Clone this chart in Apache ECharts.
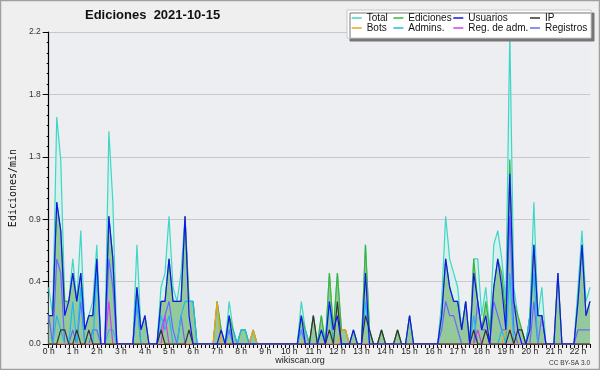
<!DOCTYPE html>
<html><head><meta charset="utf-8">
<script src="https://cdn.jsdelivr.net/npm/echarts@6/dist/echarts.min.js"></script>
<style>html,body{margin:0;padding:0;background:#efefef}#c{width:600px;height:370px}</style>
</head><body><div id="c"></div>
<script>
// tick labels (one per hour; data are 10-minute slots)
const hourLabels = ['0 h','1 h','2 h','3 h','4 h','5 h','6 h','7 h','8 h','9 h','10 h','11 h','12 h','13 h','14 h','15 h','16 h','17 h','18 h','19 h','20 h','21 h','22 h'];
const slotMinutes = ['00','10','20','30','40','50'];
const slots = [];
for (let h = 0; h < hourLabels.length; h++) for (let m = 0; m < 6; m++) { if (slots.length < 136) slots.push(h + ':' + slotMinutes[m]); }

// edits per minute, one value per 10-minute slot (6 per row = 1 hour)
const total = [
 .4,.2,1.6,1.3,.3,.3,  .6,.3,.8,.1,.2,.3,  .7,0,0,1.5,1.0,0,  0,0,0,0,.7,.1,
 .2,0,0,0,.4,.5,  .9,.4,.3,.5,.9,.3,  .3,0,0,0,0,0,  .3,.1,0,.3,.1,0,
 .1,.1,0,.1,0,0,  0,0,0,0,0,0,  0,0,0,.3,.1,0,  .2,0,.2,0,.5,.1,
 .5,.1,.1,0,.1,0,  0,.7,.1,0,0,.1,  0,0,0,.1,0,0,  .2,0,0,0,0,0,
 0,0,.3,.9,.6,.5,  .4,.1,.3,0,.6,.6,  .2,.4,.1,.7,.8,.6,  .3,2.2,.4,.2,.1,0,
 .2,1.0,.2,.4,0,0,  0,.5,0,0,0,0,  .4,.8,.3,.4];
const ediciones = [
 .2,.2,1.0,.8,.3,.3,  .5,.3,.5,.1,.2,.2,  .6,0,0,.9,.6,0,  0,0,0,0,.4,.1,
 .2,0,0,0,.3,.3,  .6,.3,.3,.3,.9,.3,  .3,0,0,0,0,0,  .3,.1,0,.2,.1,0,
 .1,.1,0,.1,0,0,  0,0,0,0,0,0,  0,0,0,.2,.1,0,  .2,0,.2,0,.5,.1,
 .5,.1,.1,0,.1,0,  0,.7,.1,0,0,.1,  0,0,0,.1,0,0,  .2,0,0,0,0,0,
 0,0,.2,.6,.4,.3,  .3,.1,.3,0,.6,.3,  .1,.3,.1,.4,.6,.5,  .2,1.3,.3,.2,.1,0,
 .2,.7,.2,.2,0,0,  0,.5,0,0,0,0,  .3,.7,.2,.3];
const usuarios = [
 .2,.2,1.0,.8,.2,.3,  .5,.3,.5,.1,.2,.2,  .6,0,0,.9,.6,0,  0,0,0,0,.4,.1,
 .2,0,0,0,.3,.3,  .6,.3,.3,.3,.9,.2,  0,0,0,0,0,0,  0,.1,0,.2,0,0,
 0,0,0,0,0,0,  0,0,0,0,0,0,  0,0,0,.2,0,0,  0,0,.1,0,.3,.1,
 .2,0,0,0,.1,0,  0,.5,0,0,0,0,  0,0,0,0,0,0,  .2,0,0,0,0,0,
 0,0,.2,.6,.4,.3,  .3,.1,.3,0,.5,.3,  .1,.2,0,.4,.6,.4,  .1,1.2,.3,.1,0,0,
 .1,.7,.2,.2,0,0,  0,.5,0,0,0,0,  .3,.7,.2,.3];
const ip = [
 0,0,0,.1,.1,0,  0,.1,0,0,.1,0,  0,0,0,0,0,0,  0,0,0,0,0,0,
 0,0,0,0,.1,0,  0,0,0,0,0,.1,  0,0,0,0,0,0,  0,0,0,0,0,0,
 0,0,0,0,0,0,  0,0,0,0,0,0,  0,0,0,0,0,0,  .2,0,0,0,.1,0,
 .3,0,0,0,0,0,  0,.2,.1,0,0,.1,  0,0,0,.1,0,0,  0,0,0,0,0,0,
 0,0,0,0,0,0,  0,0,0,0,.1,0,  0,.1,0,0,0,0,  0,.1,0,.1,.1,0,
 0,0,0,0,0,0,  0,0,0,0,0,0,  0,0,0,0];
const bots = [
 0,0,0,0,0,0,  0,0,0,0,0,0,  0,0,0,0,0,0,  0,0,0,0,0,0,
 0,0,0,0,0,0,  0,0,0,0,0,0,  0,0,0,0,0,0,  .3,0,0,0,0,0,
 0,0,0,.1,0,0,  0,0,0,0,0,0,  0,0,0,0,0,0,  0,0,0,0,0,0,
 0,.1,.1,0,0,0,  0,0,0,0,0,0,  0,0,0,0,0,0,  0,0,0,0,0,0,
 0,0,0,0,0,0,  0,0,0,0,0,0,  0,0,0,0,0,0,  .1,.1,0,0,0,0,
 0,0,0,0,0,0,  0,0,0,0,0,0,  0,0,0,0];
const admins = [
 0,0,.2,.1,0,0,  .3,0,.4,0,0,0,  .5,0,0,.1,.1,0,  0,0,0,0,.3,0,
 0,0,0,0,.2,.1,  .2,0,0,.2,.3,.3,  .3,0,0,0,0,0,  0,0,0,.1,.1,0,
 .1,.1,0,0,0,0,  0,0,0,0,0,0,  0,0,0,.1,.1,0,  0,0,.1,0,.3,0,
 0,0,0,0,0,0,  0,.3,0,0,0,0,  0,0,0,0,0,0,  0,0,0,0,0,0,
 0,0,0,0,0,0,  0,0,0,0,.2,0,  0,0,0,0,0,.1,  0,.5,0,0,0,0,
 .2,.5,0,0,0,0,  0,0,0,0,0,0,  0,0,0,0];
const regAdm = [
 0,0,0,0,0,0,  0,0,0,0,0,0,  0,0,0,.3,0,0,  0,0,0,0,0,0,
 0,0,0,0,0,.2,  0,0,0,0,0,0,  0,0,0,0,0,0,  0,0,0,0,0,0,
 0,0,0,0,0,0,  0,0,0,0,0,0,  0,0,0,0,0,0,  0,0,0,0,0,0,
 0,0,0,0,0,0,  0,0,0,0,0,0,  0,0,0,0,0,0,  0,0,0,0,0,0,
 0,0,0,0,0,0,  0,0,0,0,0,.1,  0,0,0,0,0,0,  0,0,0,0,0,0,
 0,0,0,0,0,0,  0,0,0,0,0,0,  0,0,0,0];
const registros = [
 .2,0,.6,.5,0,0,  .1,0,.3,0,0,.1,  .1,0,0,.6,.4,0,  0,0,0,0,.3,0,
 0,0,0,0,.1,.2,  .3,.1,0,.2,0,0,  0,0,0,0,0,0,  0,0,0,.1,0,0,
 0,0,0,0,0,0,  0,0,0,0,0,0,  0,0,0,.1,0,0,  0,0,0,0,0,0,
 0,0,0,0,0,0,  0,0,0,0,0,0,  0,0,0,0,0,0,  0,0,0,0,0,0,
 0,0,.1,.3,.2,.2,  .1,0,0,0,0,.3,  .1,.1,0,.3,.2,.1,  .1,.9,.1,0,0,0,
 0,.3,0,.2,0,0,  0,0,0,0,0,0,  .1,.1,.1,.1];
const yTicks = [0, 0.44, 0.88, 1.32, 1.76, 2.2];

const FONT = 'Liberation Sans';
function ser(name, data, color, z, area) {
  const s = {name, type:'line', data, showSymbol:false, symbol:'none', z,
    lineStyle:{color, width:1.2}, itemStyle:{color}, emphasis:{disabled:true}, silent:true};
  if (area) s.areaStyle = {color: area, opacity: 1};
  return s;
}
const C = {total:'#3fd6c6', ed:'#3cb43c', us:'#1414f0', ip:'#333333', bots:'#f0a020', adm:'#20b8f0', reg:'#d040e8', logs:'#6868ff'};
const series = [
  ser('Total', total, C.total, 2, '#d6f1ec'),
  ser('Ediciones', ediciones, C.ed, 3, '#94c99c'),
  ser('Registros', registros, C.logs, 4),
  ser('Admins.', admins, C.adm, 5),
  ser('Reg. de adm.', regAdm, C.reg, 6),
  ser('Bots', bots, C.bots, 7),
  ser('IP', ip, C.ip, 8),
  ser('Usuarios', usuarios, C.us, 9)
];
const legendPos = [
  ['Total',351.7,13],['Ediciones',393.3,13],['Usuarios',453.3,13],['IP',530,13],
  ['Bots',351.7,23],['Admins.',393.3,23],['Reg. de adm.',453.3,23],['Registros',530,23]
];
const legends = legendPos.map(([n,x,y]) => ({data:[n], left:x, top:y, padding:0, itemWidth:10, itemHeight:1.5,
  icon:'rect', selectedMode:false, z:21, textStyle:{fontFamily:FONT, fontSize:10, color:'#111'}}));

const chart = echarts.init(document.getElementById('c'), null, {renderer:'canvas'});
chart.setOption({
  animation:false,
  backgroundColor:'#efefef',
  title:{text:'Ediciones  2021-10-15', left:85, top:9, padding:0,
    textStyle:{fontFamily:FONT, fontSize:13, fontWeight:'bold', color:'#111'}},
  legend: legends,
  grid:{left:46, right:10, top:32, bottom:26, show:true, backgroundColor:'#eceef1', borderWidth:0},
  xAxis:{type:'category', data:slots, boundaryGap:false,
    axisLine:{lineStyle:{color:'#000', width:1.2}},
    axisTick:{interval:0, length:4, lineStyle:{color:'#000'}},
    axisLabel:{interval:5, margin:3, fontFamily:FONT, fontSize:8.5, color:'#222',
      formatter:(v, i) => hourLabels[Math.round(i/6)]},
    splitLine:{show:false}},
  yAxis:{type:'value', min:0, max:2.2, interval:0.44,
    name:'Ediciones/min', nameLocation:'middle', nameGap:30, nameRotate:90,
    nameTextStyle:{fontFamily:'DejaVu Sans Mono', fontSize:10, color:'#111'},
    axisLine:{show:true, lineStyle:{color:'#000', width:1.2}},
    axisTick:{show:true, length:6, lineStyle:{color:'#000'}},
    minorTick:{show:true, splitNumber:6, length:2, lineStyle:{color:'#000'}},
    axisLabel:{margin:8, fontFamily:FONT, fontSize:8.5, color:'#333',
      formatter:v => v.toFixed(1)},
    splitLine:{show:true, lineStyle:{color:'#c8c8c8', width:1}}},
  series,
  graphic:[
    {type:'rect', z:20, shape:{x:347, y:10, width:244, height:28},
      style:{fill:'#fff', stroke:'#c8c8c8', lineWidth:1, shadowColor:'#777', shadowOffsetX:3, shadowOffsetY:3, shadowBlur:0}},
    {type:'rect', z:30, silent:true, shape:{x:0.5, y:0.5, width:599, height:369},
      style:{fill:'none', stroke:'#a0a0a0', lineWidth:1.5}},
    {type:'text', z:20, left:'center', top:356, style:{text:'wikiscan.org', fontFamily:FONT, fontSize:9, fill:'#222'}},
    {type:'text', z:20, right:10, top:360, style:{text:'CC BY-SA 3.0', fontFamily:FONT, fontSize:6.5, fill:'#333'}}
  ]
});
</script></body></html>
